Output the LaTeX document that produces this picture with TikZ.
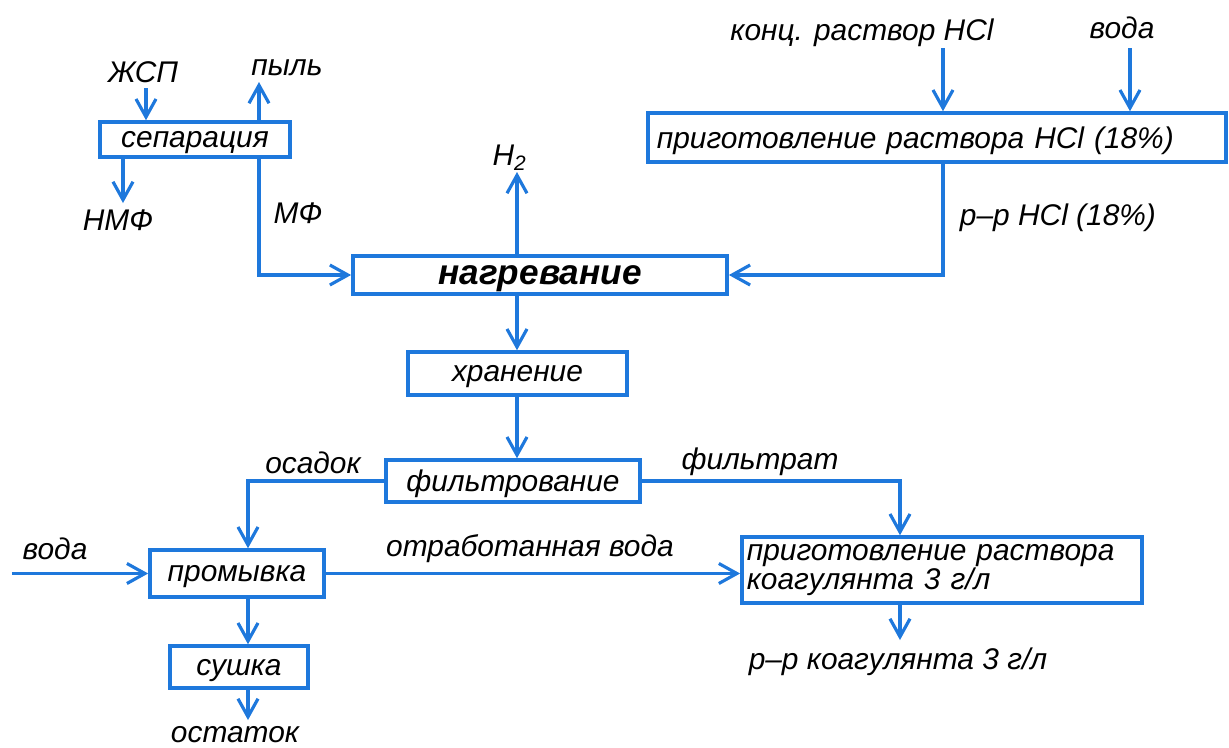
\documentclass[tikz,border=0pt]{standalone}
\usepackage{fontspec}
\setmainfont{Liberation Sans}
\usetikzlibrary{arrows.meta}
\definecolor{flowblue}{RGB}{30,120,220}

\begin{document}
\begin{tikzpicture}[
    x=0.01cm, y=-0.01cm,
    stage/.style={draw=flowblue, line width=1pt, inner sep=0pt, text depth=0pt, font=\itshape\fontsize{8.5}{8.5}\selectfont},
    stream/.style={font=\itshape\fontsize{8.5}{10}\selectfont},
    flow/.style={draw=flowblue, line width=0.9pt, -{Straight Barb[length=0.18cm, width=0.2cm]}}
]
    \useasboundingbox (0,0) rectangle (1229,748);

    % стадии
    \node[stage, minimum width=1.9cm, minimum height=0.35cm] (sep) at (195,139.5) {сепарация};
    \node[stage, minimum width=3.74cm, minimum height=0.38cm, font=\bfseries\itshape\fontsize{10}{10}\selectfont] (heat) at (540,275) {нагревание};
    \node[stage, minimum width=2.19cm, minimum height=0.43cm] (store) at (517.5,373.5) {хранение};
    \node[stage, minimum width=2.54cm, minimum height=0.42cm] (filt) at (513,481) {фильтрование};
    \node[stage, minimum width=1.74cm, minimum height=0.47cm] (wash) at (237,573.5) {промывка};
    \node[stage, minimum width=1.38cm, minimum height=0.42cm] (dry) at (239,667) {сушка};
    \node[stage, minimum width=5.78cm, minimum height=0.49cm, text width=5.6cm, align=left] (hcl) at (937,137.5) {приготовление раствора HCl (18\%)};
    \node[stage, minimum width=4.0cm, minimum height=0.66cm, text width=3.9cm, align=left, text depth=] (coag) at (942,570) {приготовление раствора\\коагулянта 3 г/л};

    % потоки (подписи)
    \node[stream] (zsp) at (143,72) {ЖСП};
    \node[stream] (dust) at (287,68) {пыль};
    \node[stream] (nmf) at (118,220) {НМФ};
    \node[stream] (mf) at (298,213) {МФ};
    \node[stream] (h2) at (510,158) {H\textsubscript{2}};
    \node[stream] (conc) at (862,33) {конц. раствор HCl};
    \node[stream] (water1) at (1122,28) {вода};
    \node[stream] (hcllbl) at (1058,218) {р–р HCl (18\%)};
    \node[stream] (sediment) at (313,463) {осадок};
    \node[stream] (filtrate) at (760,462) {фильтрат};
    \node[stream] (water2) at (55,549) {вода};
    \node[stream] (waste) at (530,549) {отработанная вода};
    \node[stream] (residue) at (235,735) {остаток};
    \node[stream] (coagout) at (898,662) {р–р коагулянта 3 г/л};

    % свободные концы
    \coordinate (zspstart) at (146,88);
    \coordinate (dustend) at (259,82);
    \coordinate (nmfend) at (123,203);
    \coordinate (h2end) at (517,172);
    \coordinate (concstart) at (943,48);
    \coordinate (waterstart) at (1130,48);
    \coordinate (water2start) at (12,573.5);
    \coordinate (resend) at (248,720);
    \coordinate (coagend) at (900,640);

    % сепарация
    \draw[flow] (zspstart) -- (zspstart |- sep.north);
    \draw[flow] (sep.north -| dustend) -- (dustend);
    \draw[flow] (sep.south -| nmfend) -- (nmfend);
    \draw[flow] (sep.south -| dustend) |- (heat.west);

    % раствор HCl
    \draw[flow] (concstart) -- (concstart |- hcl.north);
    \draw[flow] (waterstart) -- (waterstart |- hcl.north);
    \draw[flow] (hcl.south -| concstart) |- (heat.east);

    % нагревание -> хранение -> фильтрование
    \draw[flow] (heat.north -| h2end) -- (h2end);
    \draw[flow] (heat.south -| h2end) -- (h2end |- store.north);
    \draw[flow] (store.south -| h2end) -- (h2end |- filt.north);

    % осадок и фильтрат
    \draw[flow] (filt.west) -| (wash.north -| resend);
    \draw[flow] (filt.east) -| (coag.north -| coagend);

    % промывка и сушка
    \draw[flow] (water2start) -- (wash.west);
    \draw[flow] (wash.east) -- (wash.east -| coag.west);
    \draw[flow] (wash.south -| resend) -- (resend |- dry.north);
    \draw[flow] (dry.south -| resend) -- (resend);
    \draw[flow] (coag.south -| coagend) -- (coagend);
\end{tikzpicture}
\end{document}
